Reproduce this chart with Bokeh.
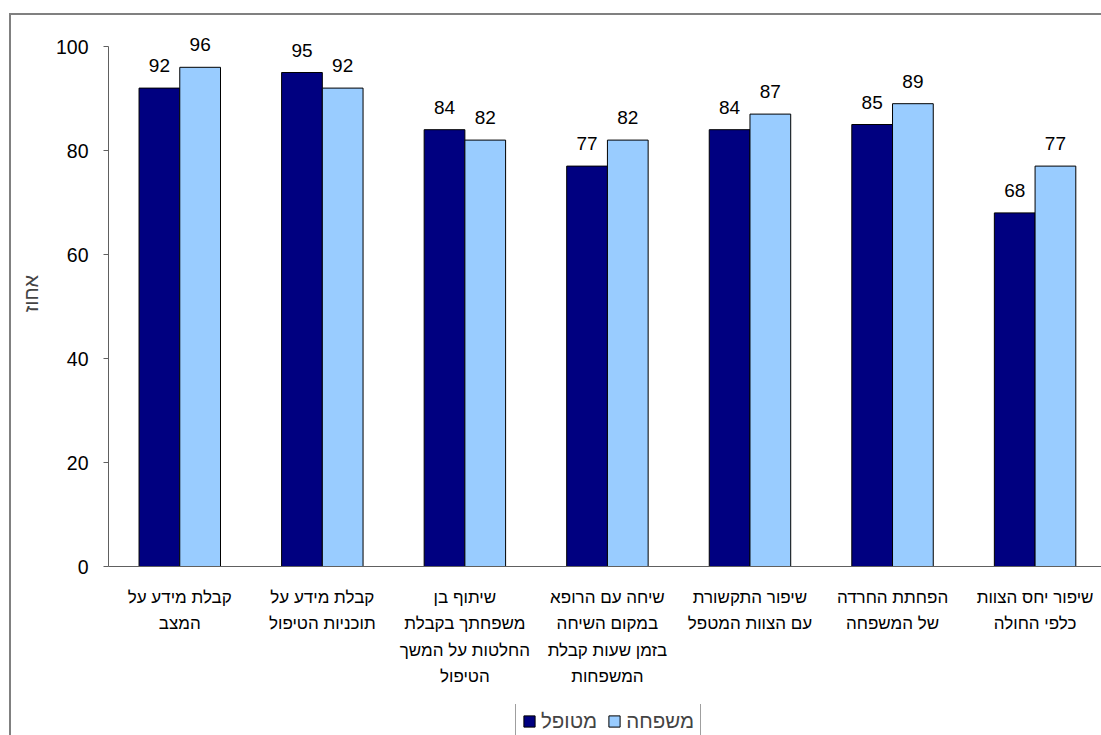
from bokeh.plotting import figure
from bokeh.layouts import column
from bokeh.models import Range1d, FixedTicker, Legend, LegendItem, ColumnDataSource
from bokeh.core.properties import value
from bokeh.embed import file_html
from bokeh.resources import INLINE

# Survey results: share (%) reporting improvement, by topic
categories = [
    "קבלת מידע על\nהמצב",
    "קבלת מידע על\nתוכניות הטיפול",
    "שיתוף בן\nמשפחתך בקבלת\nהחלטות על המשך\nהטיפול",
    "שיחה עם הרופא\nבמקום השיחה\nבזמן שעות קבלת\nהמשפחות",
    "שיפור התקשורת\nעם הצוות המטפל",
    "הפחתת החרדה\nשל המשפחה",
    "שיפור יחס הצוות\nכלפי החולה",
]
patient = [92, 95, 84, 77, 84, 85, 68]
family = [96, 92, 82, 82, 87, 89, 77]
series_names = ["מטופל", "משפחה"]
series_colors = ["#000080", "#99CCFF"]
y_ticks = [0, 20, 40, 60, 80, 100]
y_title = "אחוז"

FONT = "Liberation Sans"
n = len(categories)
centers = [i + 0.5 for i in range(n)]
bar_w = 1 / 3.5

src = ColumnDataSource(dict(
    xp=[c - bar_w / 2 for c in centers],
    xf=[c + bar_w / 2 for c in centers],
    patient=patient,
    family=family,
    patient_lbl=[str(v) for v in patient],
    family_lbl=[str(v) for v in family],
))

p = figure(
    width=1092, height=689,
    x_range=Range1d(0, 6.98), y_range=Range1d(0, 105),
    output_backend="svg", toolbar_location=None,
    min_border_left=97, min_border_right=0, min_border_top=5, min_border_bottom=138,
)
p.outline_line_color = None
p.xgrid.visible = False
p.ygrid.visible = False
p.background_fill_color = "white"
p.border_fill_color = "white"

r_p = p.vbar(x="xp", top="patient", width=bar_w, source=src,
             fill_color=series_colors[0], line_color="black", line_width=1)
r_f = p.vbar(x="xf", top="family", width=bar_w, source=src,
             fill_color=series_colors[1], line_color="black", line_width=1)

# value labels above each bar
for xcol, ycol, tcol in (("xp", "patient", "patient_lbl"), ("xf", "family", "family_lbl")):
    p.text(x=xcol, y=ycol, text=tcol, source=src, text_align="center",
           text_baseline="bottom", y_offset=-16, text_font=value(FONT),
           text_font_size="19px", text_color="black")

# y axis
yax = p.yaxis[0]
yax.ticker = FixedTicker(ticks=y_ticks)
yax.bounds = (0, 100)
yax.major_tick_out = 5
yax.major_tick_in = 0
yax.minor_tick_line_color = None
yax.axis_line_color = "#606060"
yax.major_tick_line_color = "#606060"
yax.major_label_text_font = FONT
yax.major_label_text_font_size = "19.5px"
yax.major_label_text_color = "black"
yax.major_label_standoff = 15
yax.axis_label = y_title
yax.axis_label_text_font = FONT
yax.axis_label_text_font_size = "20px"
yax.axis_label_text_font_style = "normal"
yax.axis_label_standoff = 11

# x axis with category labels
xax = p.xaxis[0]
xax.ticker = FixedTicker(ticks=centers)
xax.major_label_overrides = {c: lab for c, lab in zip(centers, categories)}
xax.major_tick_line_color = None
xax.minor_tick_line_color = None
xax.axis_line_color = "#606060"
xax.major_label_text_font = FONT
xax.major_label_text_font_size = "17px"
xax.major_label_text_color = "black"
xax.major_label_text_line_height = 1.4
xax.major_label_standoff = 15

# legend strip under the chart (its renderers share the bar data but stay hidden)
leg = figure(
    width=1092, height=40, x_range=Range1d(0, 1), y_range=Range1d(0, 1),
    output_backend="svg", toolbar_location=None,
    min_border_left=0, min_border_right=0, min_border_top=0, min_border_bottom=0,
)
leg.axis.visible = False
leg.grid.visible = False
leg.outline_line_color = None
leg_p = leg.vbar(x="xp", top="patient", width=bar_w, source=src,
                 fill_color=series_colors[0], line_color="black", visible=False)
leg_f = leg.vbar(x="xf", top="family", width=bar_w, source=src,
                 fill_color=series_colors[1], line_color="black", visible=False)

legend = Legend(
    items=[LegendItem(label=series_names[0], renderers=[leg_p]),
           LegendItem(label=series_names[1], renderers=[leg_f])],
    orientation="horizontal",
    location=(407, 4),
    label_text_font=FONT, label_text_font_size="20.5px",
    glyph_width=14, glyph_height=14, spacing=10, label_standoff=5,
    padding=6, margin=0,
    inactive_fill_alpha=0,
    border_line_color="#404040", border_line_width=1,
)
leg.add_layout(legend)

page = column(
    p, leg, spacing=0,
    styles={
        "margin-left": "9px", "margin-top": "13px",
        "border-left": "2px solid #808080", "border-top": "2px solid #808080",
    },
)

open("out.html", "w").write(file_html(page, INLINE))
